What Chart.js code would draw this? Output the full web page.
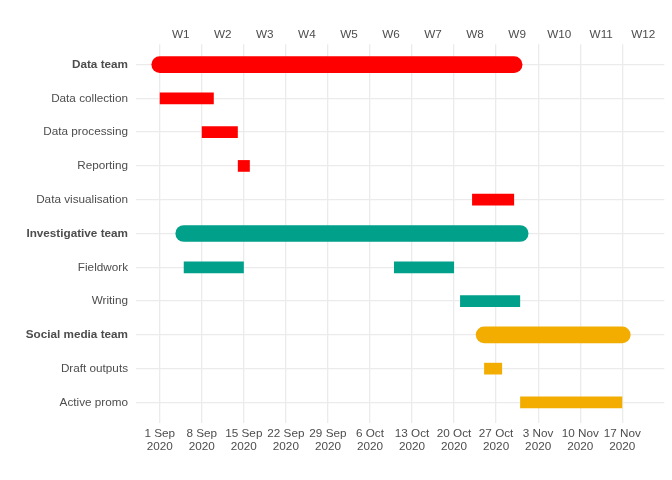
<!DOCTYPE html>
<html>
<head>
<meta charset="utf-8">
<script src="https://cdn.jsdelivr.net/npm/chart.js@4.4.0/dist/chart.umd.min.js"></script>
<style>
  body { margin: 0; background: #fff; }
  #wrap { width: 672px; height: 480px; }
</style>
</head>
<body>
<div id="wrap"><canvas id="chart"></canvas></div>
<script>
// rows from top to bottom
const rowLabels = ['Data team', 'Data collection', 'Data processing', 'Reporting',
    'Data visualisation', 'Investigative team', 'Fieldwork', 'Writing',
    'Social media team', 'Draft outputs', 'Active promo'];
const teamRows = ['Data team', 'Investigative team', 'Social media team'];
const teamColours = { 'Data team': '#FF0000', 'Investigative team': '#00A08A', 'Social media team': '#F2AD00' };

// one entry per segment (Fieldwork has two)
const segTask = ['Data team', 'Data collection', 'Data processing', 'Reporting', 'Data visualisation',
    'Investigative team', 'Fieldwork', 'Fieldwork', 'Writing',
    'Social media team', 'Draft outputs', 'Active promo'];
const segTeam = ['Data team', 'Data team', 'Data team', 'Data team', 'Data team',
    'Investigative team', 'Investigative team', 'Investigative team', 'Investigative team',
    'Social media team', 'Social media team', 'Social media team'];
const segStart = ['2020-09-01', '2020-09-01', '2020-09-08', '2020-09-14', '2020-10-23',
    '2020-09-05', '2020-09-05', '2020-10-10', '2020-10-21',
    '2020-10-25', '2020-10-25', '2020-10-31'];
const segEnd = ['2020-10-30', '2020-09-10', '2020-09-14', '2020-09-16', '2020-10-30',
    '2020-10-31', '2020-09-15', '2020-10-20', '2020-10-31',
    '2020-11-17', '2020-10-28', '2020-11-17'];

const weekStarts = ['2020-09-01', '2020-09-08', '2020-09-15', '2020-09-22', '2020-09-29', '2020-10-06',
    '2020-10-13', '2020-10-20', '2020-10-27', '2020-11-03', '2020-11-10', '2020-11-17'];
const weekLabels = ['W1', 'W2', 'W3', 'W4', 'W5', 'W6', 'W7', 'W8', 'W9', 'W10', 'W11', 'W12'];
const monthNames = ['Jan', 'Feb', 'Mar', 'Apr', 'May', 'Jun', 'Jul', 'Aug', 'Sep', 'Oct', 'Nov', 'Dec'];

const xMin = -4, xMax = 84;   // days from 1 Sep, axis limits

const day0 = Date.parse('2020-09-01');
const dayOf = s => (Date.parse(s) - day0) / 86400000;
const dateLabel = s => {
    const d = new Date(s);
    return [d.getUTCDate() + ' ' + monthNames[d.getUTCMonth()], String(d.getUTCFullYear())];
};

const FONT = 'Liberation Sans, Arial, sans-serif';
const TEXT = '#4D4D4D';
const GRID = '#EBEBEB';

const datasets = segTask.map((task, i) => {
    const team = teamRows.includes(task);
    const row = rowLabels.indexOf(task);
    return {
        data: [{ x: dayOf(segStart[i]), y: row }, { x: dayOf(segEnd[i]), y: row }],
        showLine: true,
        borderColor: teamColours[segTeam[i]],
        borderWidth: team ? 16.7 : 11.7,
        borderCapStyle: team ? 'round' : 'butt',
        pointRadius: 0,
        clip: false
    };
});

new Chart(document.getElementById('chart'), {
    type: 'scatter',
    data: { datasets: datasets },
    options: {
        responsive: true,
        maintainAspectRatio: false,
        animation: false,
        layout: { padding: { left: 0, right: 7.7, top: 0, bottom: 0 } },
        plugins: { legend: { display: false }, tooltip: { enabled: false } },
        scales: {
            x: {
                type: 'linear',
                position: 'bottom',
                min: xMin,
                max: xMax,
                afterBuildTicks: scale => {
                    scale.ticks = weekStarts.map(s => ({ value: dayOf(s) }));
                },
                afterFit: scale => { scale.height = 57.3; },
                ticks: {
                    autoSkip: false,
                    maxRotation: 0,
                    padding: 4,
                    color: TEXT,
                    font: { family: FONT, size: 11.73, lineHeight: 1.15 },
                    callback: (v, i) => dateLabel(weekStarts[i])
                },
                grid: { color: GRID, lineWidth: 1.3, drawTicks: false },
                border: { display: false }
            },
            x2: {
                type: 'linear',
                position: 'top',
                min: xMin,
                max: xMax,
                afterBuildTicks: scale => {
                    scale.ticks = weekStarts.map(s => ({ value: dayOf(s) + 3.5 }));
                },
                afterFit: scale => { scale.height = 44.3; },
                ticks: {
                    autoSkip: false,
                    maxRotation: 0,
                    padding: 2,
                    color: TEXT,
                    font: { family: FONT, size: 11.73 },
                    callback: (v, i) => weekLabels[i]
                },
                grid: { display: false, drawTicks: false },
                border: { display: false }
            },
            y: {
                type: 'linear',
                reverse: true,
                min: -0.6,
                max: rowLabels.length - 0.4,
                afterBuildTicks: scale => {
                    scale.ticks = rowLabels.map((_, i) => ({ value: i }));
                },
                afterFit: scale => { scale.width = 135.7; },
                ticks: {
                    autoSkip: false,
                    padding: 7.7,
                    color: TEXT,
                    font: ctx => ({
                        family: FONT,
                        size: 11.73,
                        weight: teamRows.includes(rowLabels[ctx.index]) ? 'bold' : 'normal'
                    }),
                    callback: v => rowLabels[v]
                },
                grid: { color: GRID, lineWidth: 1.3, drawTicks: false },
                border: { display: false }
            }
        }
    }
});
</script>
</body>
</html>
